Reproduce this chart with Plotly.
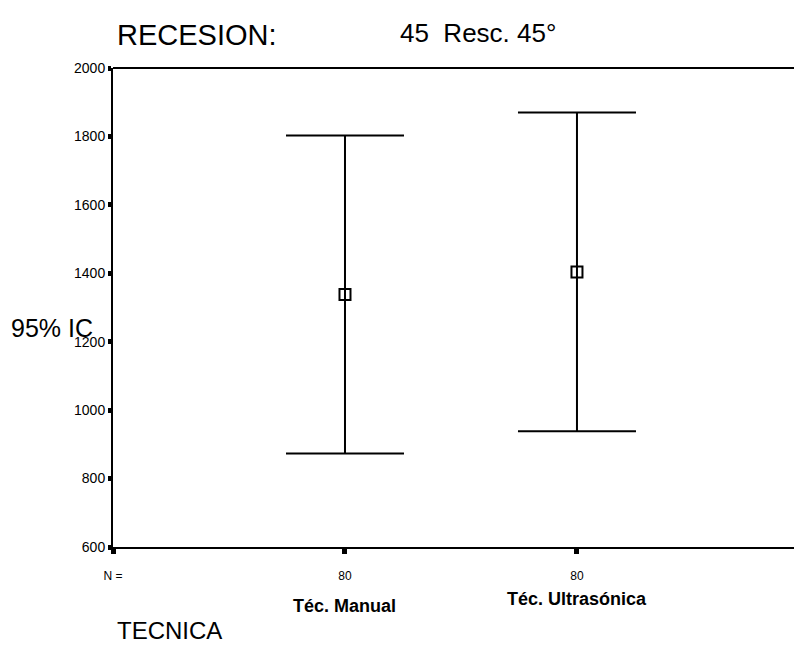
import plotly.graph_objects as go

categories = ["Téc. Manual", "Téc. Ultrasónica"]
x_pos = [1, 2]
means = [1338, 1404]
lower = [873, 938]
upper = [1803, 1870]
n_counts = [80, 80]
y_ticks = [600, 800, 1000, 1200, 1400, 1600, 1800, 2000]

FONT = "Liberation Sans, Arial, sans-serif"

# page body has an 8px margin; figure sized so the plot area lands at
# x 113..802, y 68..547 in the browser window
fig = go.Figure()
fig.add_trace(go.Scatter(
    x=x_pos, y=means, mode="markers",
    marker=dict(symbol="square-open", size=11, color="black", line=dict(width=2, color="black")),
    error_y=dict(type="data", symmetric=False,
                 array=[u - m for u, m in zip(upper, means)],
                 arrayminus=[m - l for m, l in zip(means, lower)],
                 color="black", thickness=2, width=59),
    showlegend=False, hoverinfo="skip",
))

fig.update_layout(
    width=794, height=664,
    margin=dict(l=105, r=0, t=60, b=125),
    paper_bgcolor="white", plot_bgcolor="white",
    font=dict(family=FONT, color="black"),
    xaxis=dict(range=[0, 2.97], tickvals=[0] + x_pos, ticktext=["N ="] + [str(n) for n in n_counts],
               showgrid=False, zeroline=False, showline=True, linecolor="black", linewidth=2,
               ticks="outside", ticklen=5, tickwidth=5, tickcolor="black",
               ticklabelstandoff=12,
               tickfont=dict(size=12, family=FONT)),
    yaxis=dict(range=[600, 2000], tickvals=y_ticks, showgrid=False, zeroline=False,
               showline=True, linecolor="black", linewidth=2,
               ticks="outside", ticklen=3, tickwidth=5, tickcolor="black",
               ticklabelstandoff=0,
               tickfont=dict(size=14, family=FONT)),
)

# top frame line
fig.add_shape(type="line", xref="paper", yref="paper", x0=0, x1=1, y0=1, y1=1,
              line=dict(color="black", width=2))


def pix(xp, yp):
    return (xp - 113) / 689, (547 - yp) / 479


# category labels
cat_y = [606, 599]
for x, c, py in zip(x_pos, categories, cat_y):
    _, ay = pix(0, py)
    fig.add_annotation(x=x, xref="x", y=ay, yref="paper",
                       text="<b>" + c + "</b>", showarrow=False, font=dict(size=18, family=FONT),
                       xanchor="center", yanchor="middle")

for txt, xp, yp, size in [("RECESION:", 115, 35, 29), ("45  Resc. 45°", 398, 33, 26),
                          ("TECNICA", 115, 630, 24)]:
    ax, ay = pix(xp, yp)
    fig.add_annotation(x=ax, y=ay, xref="paper", yref="paper", text=txt, showarrow=False,
                       xanchor="left", yanchor="middle", font=dict(size=size, family=FONT))

ax, ay = pix(9, 328)
fig.add_annotation(x=ax, y=ay, xref="paper", yref="paper", text="95% IC", showarrow=False,
                   xanchor="left", yanchor="middle", font=dict(size=25, family=FONT))

fig.write_html("out.html")
